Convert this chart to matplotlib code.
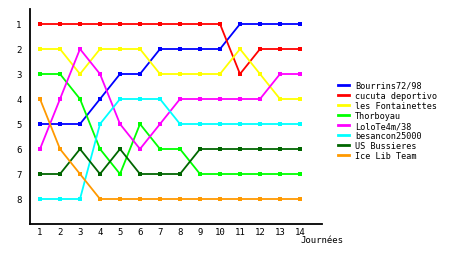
import matplotlib
matplotlib.use("Agg")
import matplotlib.pyplot as plt

rounds = list(range(1, 15))
teams = ["Bourrins72/98", "cucuta deportivo", "les Fontainettes", "Thorboyau",
         "LoloTe4m/38", "besancon25000", "US Bussieres", "Ice Lib Team"]
colors = ["#0000ff", "#ff0000", "#ffff00", "#00ff00",
          "#ff00ff", "#00ffff", "#006600", "#ff9900"]
bourrins = [5, 5, 5, 4, 3, 3, 2, 2, 2, 2, 1, 1, 1, 1]
cucuta = [1, 1, 1, 1, 1, 1, 1, 1, 1, 1, 3, 2, 2, 2]
fontainettes = [2, 2, 3, 2, 2, 2, 3, 3, 3, 3, 2, 3, 4, 4]
thorboyau = [3, 3, 4, 6, 7, 5, 6, 6, 7, 7, 7, 7, 7, 7]
lolo = [6, 4, 2, 3, 5, 6, 5, 4, 4, 4, 4, 4, 3, 3]
besancon = [8, 8, 8, 5, 4, 4, 4, 5, 5, 5, 5, 5, 5, 5]
bussieres = [7, 7, 6, 7, 6, 7, 7, 7, 6, 6, 6, 6, 6, 6]
icelib = [4, 6, 7, 8, 8, 8, 8, 8, 8, 8, 8, 8, 8, 8]
series = [bourrins, cucuta, fontainettes, thorboyau, lolo, besancon, bussieres, icelib]
rank_ticks = [1, 2, 3, 4, 5, 6, 7, 8]
xlabel = "Journées"

W, H = 460, 255
fig = plt.figure(figsize=(W / 100, H / 100), dpi=100)
ax = fig.add_axes([30 / W, 1 - 225 / H, 292 / W, 215 / H])

for name, col, vals in zip(teams, colors, series):
    ax.plot(rounds, vals, color=col, lw=1.3, marker="s", ms=2.6,
            mew=0, label=name)

ax.set_xlim(0.5, 15.1)
ax.set_ylim(9.0, 0.4)
ax.set_xticks(rounds)
ax.set_yticks(rank_ticks)
ax.tick_params(length=0, labelsize=6.5, pad=2)
ax.tick_params(axis="y", pad=6)
for s in ["top", "right"]:
    ax.spines[s].set_visible(False)
for s in ["left", "bottom"]:
    ax.spines[s].set_linewidth(1.3)
for lab in ax.get_xticklabels() + ax.get_yticklabels():
    lab.set_family("DejaVu Sans Mono")

fig.text(300 / W, 1 - 241 / H, xlabel, fontsize=6.5, family="DejaVu Sans Mono",
         va="center", ha="left")

leg = ax.legend(loc="upper left", bbox_to_anchor=(338 / W, 1 - 82 / H),
                bbox_transform=fig.transFigure, frameon=False,
                prop={"family": "DejaVu Sans Mono", "size": 6.1},
                handlelength=1.3, handletextpad=0.7, labelspacing=0.12,
                borderaxespad=0, borderpad=0)
for h in leg.get_lines():
    h.set_marker("")
    h.set_linewidth(2)

fig.savefig("out.png", dpi=100)
